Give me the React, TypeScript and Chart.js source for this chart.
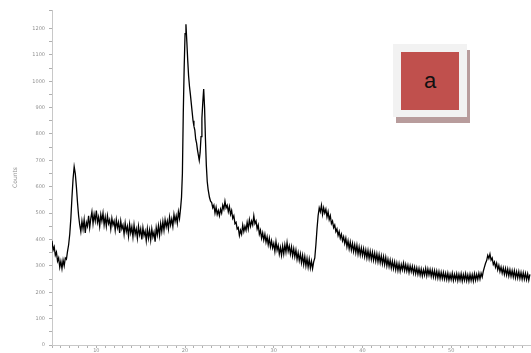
import React, { useEffect, useRef } from "react";
import { Chart, registerables } from "chart.js";

Chart.register(...registerables);

// 2θ (degrees) sample positions
const twoTheta: number[] = [
  5.0, 5.125, 5.25, 5.375, 5.5, 5.625, 5.75, 5.875,
  6.0, 6.125, 6.25, 6.375, 6.5, 6.625, 6.75, 6.875,
  7.0, 7.125, 7.25, 7.375, 7.5, 7.625, 7.75, 7.875,
  8.0, 8.125, 8.25, 8.375, 8.5, 8.625, 8.75, 8.875,
  9.0, 9.125, 9.25, 9.375, 9.5, 9.625, 9.75, 9.875,
  10.0, 10.125, 10.25, 10.375, 10.5, 10.625, 10.75, 10.875,
  11.0, 11.125, 11.25, 11.375, 11.5, 11.625, 11.75, 11.875,
  12.0, 12.125, 12.25, 12.375, 12.5, 12.625, 12.75, 12.875,
  13.0, 13.125, 13.25, 13.375, 13.5, 13.625, 13.75, 13.875,
  14.0, 14.125, 14.25, 14.375, 14.5, 14.625, 14.75, 14.875,
  15.0, 15.125, 15.25, 15.375, 15.5, 15.625, 15.75, 15.875,
  16.0, 16.125, 16.25, 16.375, 16.5, 16.625, 16.75, 16.875,
  17.0, 17.125, 17.25, 17.375, 17.5, 17.625, 17.75, 17.875,
  18.0, 18.125, 18.25, 18.375, 18.5, 18.625, 18.75, 18.875,
  19.0, 19.125, 19.25, 19.375, 19.5,
  19.6, 19.7, 19.8, 19.9, 20.0, 20.1, 20.2, 20.3, 20.4, 20.5, 20.6, 20.75, 20.9,
  21.0, 21.1, 21.2, 21.3, 21.4, 21.5, 21.6, 21.7, 21.8, 21.9, 22.0, 22.1, 22.2,
  22.3, 22.4, 22.5, 22.6, 22.75, 22.875,
  23.0, 23.125, 23.25, 23.375, 23.5, 23.625, 23.75, 23.875,
  24.0, 24.125, 24.25, 24.375, 24.5, 24.625, 24.75, 24.875,
  25.0, 25.125, 25.25, 25.375, 25.5, 25.625, 25.75, 25.875,
  26.0, 26.125, 26.25, 26.375, 26.5, 26.625, 26.75, 26.875,
  27.0, 27.125, 27.25, 27.375, 27.5, 27.625, 27.75, 27.875,
  28.0, 28.125, 28.25, 28.375, 28.5, 28.625, 28.75, 28.875,
  29.0, 29.125, 29.25, 29.375, 29.5, 29.625, 29.75, 29.875,
  30.0, 30.125, 30.25, 30.375, 30.5, 30.625, 30.75, 30.875,
  31.0, 31.125, 31.25, 31.375, 31.5, 31.625, 31.75, 31.875,
  32.0, 32.125, 32.25, 32.375, 32.5, 32.625, 32.75, 32.875,
  33.0, 33.125, 33.25, 33.375, 33.5, 33.625, 33.75, 33.875,
  34.0, 34.125, 34.25, 34.375, 34.5, 34.625, 34.75, 34.875,
  35.0, 35.125, 35.25, 35.375, 35.5, 35.625, 35.75, 35.875,
  36.0, 36.125, 36.25, 36.375, 36.5, 36.625, 36.75, 36.875,
  37.0, 37.125, 37.25, 37.375, 37.5, 37.625, 37.75, 37.875,
  38.0, 38.125, 38.25, 38.375, 38.5, 38.625, 38.75, 38.875,
  39.0, 39.125, 39.25, 39.375, 39.5, 39.625, 39.75, 39.875,
  40.0, 40.125, 40.25, 40.375, 40.5, 40.625, 40.75, 40.875,
  41.0, 41.125, 41.25, 41.375, 41.5, 41.625, 41.75, 41.875,
  42.0, 42.125, 42.25, 42.375, 42.5, 42.625, 42.75, 42.875,
  43.0, 43.125, 43.25, 43.375, 43.5, 43.625, 43.75, 43.875,
  44.0, 44.125, 44.25, 44.375, 44.5, 44.625, 44.75, 44.875,
  45.0, 45.125, 45.25, 45.375, 45.5, 45.625, 45.75, 45.875,
  46.0, 46.125, 46.25, 46.375, 46.5, 46.625, 46.75, 46.875,
  47.0, 47.125, 47.25, 47.375, 47.5, 47.625, 47.75, 47.875,
  48.0, 48.125, 48.25, 48.375, 48.5, 48.625, 48.75, 48.875,
  49.0, 49.125, 49.25, 49.375, 49.5, 49.625, 49.75, 49.875,
  50.0, 50.125, 50.25, 50.375, 50.5, 50.625, 50.75, 50.875,
  51.0, 51.125, 51.25, 51.375, 51.5, 51.625, 51.75, 51.875,
  52.0, 52.125, 52.25, 52.375, 52.5, 52.625, 52.75, 52.875,
  53.0, 53.125, 53.25, 53.375, 53.5, 53.625, 53.75, 53.875,
  54.0, 54.125, 54.25, 54.375, 54.5, 54.625, 54.75, 54.875,
  55.0, 55.125, 55.25, 55.375, 55.5, 55.625, 55.75, 55.875,
  56.0, 56.125, 56.25, 56.375, 56.5, 56.625, 56.75, 56.875,
  57.0, 57.125, 57.25, 57.375, 57.5, 57.625, 57.75, 57.875,
  58.0, 58.125, 58.25, 58.375, 58.5, 58.625, 58.75, 58.875,
];

// intensity (counts)
const counts: number[] = [
  395, 360, 372, 340, 352, 318, 330, 295,
  318, 290, 322, 300, 330, 325, 355, 380,
  420, 480, 560, 630, 676, 650, 600, 540,
  490, 455, 430, 470, 440, 475, 425, 465,
  450, 490, 445, 480, 505, 460, 495, 470,
  510, 465, 485, 450, 495, 470, 500, 455,
  485, 450, 490, 460, 475, 440, 480, 455,
  470, 435, 475, 445, 465, 425, 470, 440,
  455, 420, 462, 430, 450, 412, 458, 425,
  448, 410, 455, 420, 440, 405, 450, 418,
  440, 400, 445, 415, 432, 395, 440, 405,
  435, 398, 440, 410, 428, 392, 445, 418,
  452, 415, 460, 430, 468, 435, 475, 448,
  470, 440, 485, 455, 478, 450, 495, 468,
  490, 462, 505, 480, 520,
  560, 650, 880, 1050, 1180, 1216, 1150, 1080, 1020, 980, 950, 900, 850,
  830, 815, 780, 765, 740, 720, 700, 730, 790, 860, 920, 970, 900,
  780, 680, 620, 590, 560, 545,
  540, 520, 530, 500, 522, 495, 510, 490,
  515, 500, 530, 515, 545, 520, 530, 505,
  525, 495, 510, 480, 490, 460, 465, 440,
  445, 415, 435, 420, 455, 430, 450, 435,
  465, 440, 475, 450, 470, 455, 490, 460,
  470, 440, 455, 420, 435, 405, 425, 398,
  420, 390, 410, 380, 405, 372, 395, 368,
  385, 355, 392, 360, 378, 345, 370, 340,
  375, 345, 380, 352, 388, 355, 375, 345,
  372, 338, 365, 335, 360, 325, 350, 320,
  345, 312, 340, 305, 335, 300, 328, 295,
  325, 292, 318, 290, 315, 330, 380, 440,
  490, 520, 505, 530, 495, 520, 500, 515,
  485, 505, 475, 490, 460, 470, 445, 455,
  430, 440, 415, 430, 405, 420, 395, 410,
  385, 405, 372, 395, 365, 390, 360, 385,
  355, 380, 350, 378, 345, 372, 342, 368,
  340, 365, 335, 360, 330, 358, 328, 355,
  325, 352, 322, 348, 318, 345, 315, 342,
  312, 338, 308, 335, 305, 332, 300, 325,
  298, 322, 292, 318, 290, 315, 285, 310,
  282, 308, 280, 305, 285, 310, 282, 305,
  280, 302, 275, 300, 278, 298, 272, 295,
  270, 292, 268, 290, 265, 288, 262, 285,
  265, 290, 262, 288, 266, 286, 260, 284,
  258, 282, 256, 280, 254, 278, 252, 276,
  252, 275, 250, 272, 248, 272, 246, 268,
  248, 272, 245, 268, 248, 270, 244, 268,
  246, 270, 243, 267, 246, 270, 244, 266,
  242, 268, 245, 267, 243, 270, 246, 268,
  248, 272, 250, 272, 258, 280, 295, 310,
  320, 340, 328, 345, 322, 330, 305, 315,
  295, 310, 285, 302, 278, 295, 272, 292,
  268, 290, 265, 288, 262, 285, 260, 282,
  258, 282, 255, 278, 254, 278, 252, 275,
  250, 274, 250, 272, 248, 270, 246, 268,
];

const xMajorLabels: number[] = [10, 20, 30, 40, 50];
const yMajorStep = 100;
const yAxisTitle = "Counts";
const badgeText = "a";

export default function App() {
  const canvasRef = useRef<HTMLCanvasElement | null>(null);

  useEffect(() => {
    const canvas = canvasRef.current;
    if (!canvas) return;
    const points = twoTheta.map((x, i) => ({ x, y: counts[i] }));
    const chart = new Chart(canvas, {
      type: "line",
      data: {
        datasets: [
          {
            data: points,
            borderColor: "#000000",
            borderWidth: 1.3,
            pointRadius: 0,
            tension: 0,
            fill: false,
          },
        ],
      },
      options: {
        animation: false,
        responsive: false,
        maintainAspectRatio: false,
        layout: { padding: { top: 10, right: 0, left: 0, bottom: 0 } },
        plugins: { legend: { display: false }, tooltip: { enabled: false } },
        scales: {
          x: {
            type: "linear",
            min: 5,
            max: 59,
            border: { color: "#c8c8c8", width: 1 },
            grid: { drawOnChartArea: false, tickLength: 3, color: "#b0b0b0" },
            ticks: {
              stepSize: 1,
              autoSkip: false,
              maxRotation: 0,
              padding: 0,
              color: "#909090",
              font: { size: 5, family: "DejaVu Sans" },
              callback: (v: any) =>
                xMajorLabels.includes(Number(v)) ? String(v) : "",
            },
            afterFit: (s: any) => {
              s.height = 8;
            },
          },
          y: {
            min: 0,
            max: 1270,
            border: { color: "#c8c8c8", width: 1 },
            grid: { drawOnChartArea: false, tickLength: 3, color: "#b0b0b0" },
            title: {
              display: true,
              text: yAxisTitle,
              color: "#909090",
              font: { size: 6, family: "DejaVu Sans" },
              padding: { top: 12, bottom: 0 },
            },
            ticks: {
              stepSize: 50,
              autoSkip: false,
              padding: 4,
              color: "#909090",
              font: { size: 5, family: "DejaVu Sans" },
              callback: (v: any) =>
                Number(v) % yMajorStep === 0 ? String(v) : "",
            },
            afterFit: (s: any) => {
              s.width = 52;
            },
          },
        },
      },
    });
    return () => chart.destroy();
  }, []);

  return (
    <div
      style={{
        position: "absolute",
        left: 0,
        top: 0,
        width: 531,
        height: 353,
        background: "#ffffff",
        overflow: "hidden",
      }}
    >
      <canvas ref={canvasRef} width={531} height={353} style={{ display: "block" }} />
      <div
        style={{
          position: "absolute",
          left: 396,
          top: 50,
          width: 74,
          height: 73,
          background: "#b89c9c",
        }}
      />
      <div
        style={{
          position: "absolute",
          left: 393,
          top: 44,
          width: 74,
          height: 73,
          background: "#f2f2f2",
        }}
      />
      <div
        style={{
          position: "absolute",
          left: 401,
          top: 52,
          width: 58,
          height: 58,
          background: "#c0504d",
          display: "flex",
          alignItems: "center",
          justifyContent: "center",
          fontFamily: "Liberation Sans, Arial, sans-serif",
          fontSize: 22,
          color: "#111111",
        }}
      >
        {badgeText}
      </div>
    </div>
  );
}
